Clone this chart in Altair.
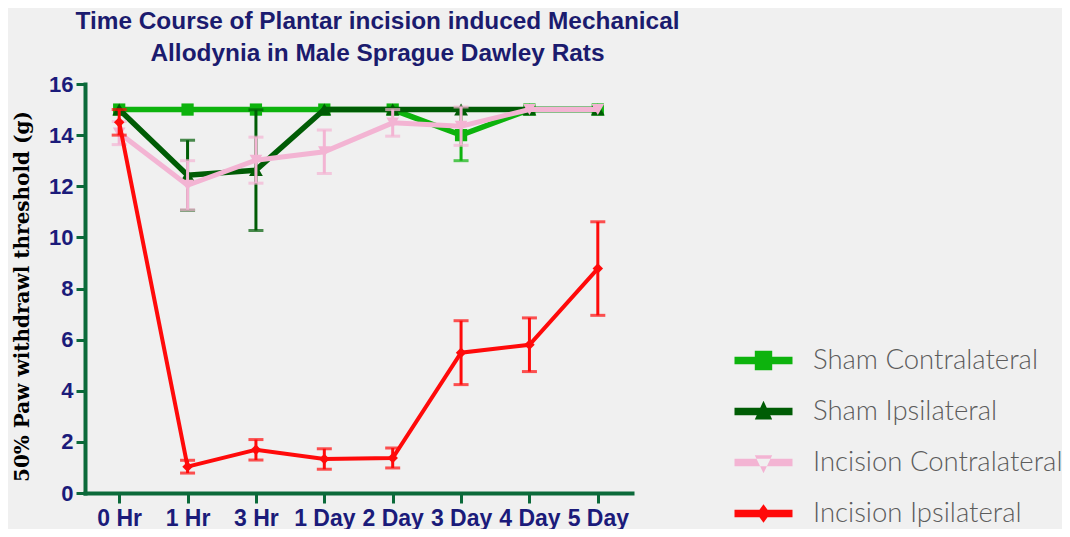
import altair as alt
import pandas as pd

# ---------------- data ----------------
times = ["0 Hr", "1 Hr", "3 Hr", "1 Day", "2 Day", "3 Day", "4 Day", "5 Day"]
series = ["Sham Contralateral", "Sham Ipsilateral", "Incision Contralateral", "Incision Ipsilateral"]

sham_contra_mean = [15.0, 15.0, 15.0, 15.0, 15.0, 14.0, 15.0, 15.0]
sham_contra_err = [0.0, 0.0, 0.0, 0.0, 0.0, 1.0, 0.0, 0.0]

sham_ipsi_mean = [15.0, 12.43, 12.63, 15.0, 15.0, 15.0, 15.0, 15.0]
sham_ipsi_err = [0.0, 1.37, 2.36, 0.0, 0.0, 0.0, 0.0, 0.0]

inc_contra_mean = [14.08, 12.04, 13.02, 13.35, 14.48, 14.35, 15.0, 15.0]
inc_contra_err = [0.45, 0.96, 0.9, 0.85, 0.52, 0.75, 0.0, 0.0]

inc_ipsi_mean = [14.5, 1.03, 1.69, 1.33, 1.37, 5.49, 5.8, 8.78]
inc_ipsi_err = [0.5, 0.25, 0.4, 0.4, 0.39, 1.25, 1.05, 1.83]

means = [sham_contra_mean, sham_ipsi_mean, inc_contra_mean, inc_ipsi_mean]
errs = [sham_contra_err, sham_ipsi_err, inc_contra_err, inc_ipsi_err]

colors = ["#0db30d", "#005c05", "#f3b4d3", "#ff0a0a"]
shapes = ["square", "triangle-up", "triangle-down", "diamond"]
sizes = [150, 190, 160, 110]
widths = [5.5, 5.5, 5, 4]

rows = []
for s, m_list, e_list in zip(series, means, errs):
    for t, m, e in zip(times, m_list, e_list):
        rows.append({"series": s, "time": t, "mean": m, "err": e, "lo": m - e, "hi": m + e})
df = pd.DataFrame(rows)

# ---------------- styling ----------------
NAVY = "#1b1b7a"
AXIS_GREEN = "#0b6a3a"
YTITLE = "50% Paw withdrawl threshold (g)"

line_path = "M-1.5,-0.19H1.5V0.19H-1.5Z"
legend_paths = [
    line_path + "M-0.45,-0.5H0.45V0.5H-0.45Z",
    line_path + "M0,-0.55L0.45,0.42H-0.45Z",
    line_path + "M0,0.55L0.45,-0.38H-0.45Z",
    line_path + "M0,-0.48L0.35,0L0,0.48L-0.35,0Z",
]
shape_expr = " : ".join(
    f"datum.value == '{s}' ? '{p}'" for s, p in zip(series[:-1], legend_paths[:-1])
) + f" : '{legend_paths[-1]}'"
fill_expr = " : ".join(
    f"datum.value == '{s}' ? '{c}'" for s, c in zip(series[:-1], colors[:-1])
) + f" : '{colors[-1]}'"

leg = alt.Legend(
    orient="none",
    legendX=659,
    legendY=257,
    title=None,
    symbolSize=1495,
    symbolType={"expr": shape_expr},
    symbolFillColor={"expr": fill_expr},
    symbolStrokeColor="transparent",
    symbolStrokeWidth=0,
    symbolOpacity=1,
    labelFont="Lato",
    labelFontSize=27.5,
    labelFontWeight=300,
    labelColor="#5c5c5c",
    labelOffset=30,
    rowPadding=18,
    labelLimit=500,
)

xaxis = alt.Axis(
    title=None,
    labelAngle=0,
    labelFont="Liberation Sans",
    labelFontWeight="bold",
    labelFontSize=23,
    labelColor=NAVY,
    labelPadding=4,
    domainColor=AXIS_GREEN,
    domainWidth=4,
    domainCap="square",
    tickColor=AXIS_GREEN,
    tickWidth=3,
    tickSize=10,
    grid=False,
)
yaxis = alt.Axis(
    title=YTITLE,
    values=list(range(0, 17, 2)),
    labelFont="Liberation Sans",
    labelFontWeight="bold",
    labelFontSize=22,
    labelColor=NAVY,
    labelPadding=3,
    domainColor=AXIS_GREEN,
    domainWidth=4,
    domainCap="square",
    tickColor=AXIS_GREEN,
    tickWidth=3,
    tickSize=9,
    grid=False,
    titleFont="DejaVu Serif",
    titleFontWeight="bold",
    titleFontSize=20,
    titleColor="#000000",
    titleX=-57,
    titleY=212,
    titleBaseline="alphabetic",
)

xscale = alt.Scale(type="point", padding=0.5, domain=times)
yscale = alt.Scale(domain=[0, 16], nice=False)
cscale = alt.Scale(domain=series, range=colors)


def X():
    return alt.X("time:N", sort=times, scale=xscale, axis=xaxis)


def C():
    return alt.Color("series:N", scale=cscale, legend=leg)


layers = []
for i, s in enumerate(series):
    base = alt.Chart(df).transform_filter(alt.datum.series == s)
    line = base.mark_line(strokeWidth=widths[i]).encode(
        x=X(), y=alt.Y("mean:Q", scale=yscale, axis=yaxis, title=YTITLE), color=C()
    )
    ebase = base.transform_filter(alt.datum.err > 0)
    rule = ebase.mark_rule(strokeWidth=3).encode(
        x=X(), y=alt.Y("lo:Q", scale=yscale, axis=yaxis, title=YTITLE), y2="hi:Q", color=C()
    )
    cap_lo = ebase.mark_tick(thickness=3, size=15).encode(
        x=X(), y=alt.Y("lo:Q", scale=yscale, axis=yaxis, title=YTITLE), color=C()
    )
    cap_hi = ebase.mark_tick(thickness=3, size=15).encode(
        x=X(), y=alt.Y("hi:Q", scale=yscale, axis=yaxis, title=YTITLE), color=C()
    )
    pts = base.mark_point(filled=True, opacity=1, shape=shapes[i], size=sizes[i]).encode(
        x=X(), y=alt.Y("mean:Q", scale=yscale, axis=yaxis, title=YTITLE), color=C()
    )
    layers += [line, rule, cap_lo, cap_hi, pts]

chart = (
    alt.layer(*layers)
    .properties(
        width=547,
        height=409,
        autosize=alt.AutoSizeParams(type="none"),
        padding={"left": 77, "top": 76, "right": 430, "bottom": 36},
        title=alt.TitleParams(
            text=[
                "Time Course of Plantar incision induced Mechanical",
                "Allodynia in Male Sprague Dawley Rats",
            ],
            font="Liberation Sans",
            fontWeight="bold",
            fontSize=24.4,
            color="#1b1b6e",
            anchor="middle",
            dx=19,
            offset=7,
            lineHeight=32,
        ),
    )
    .configure(background="#f0f0f0")
    .configure_view(stroke=None)
)

chart.save("out.html", embed_options={"renderer": "svg", "actions": False})
